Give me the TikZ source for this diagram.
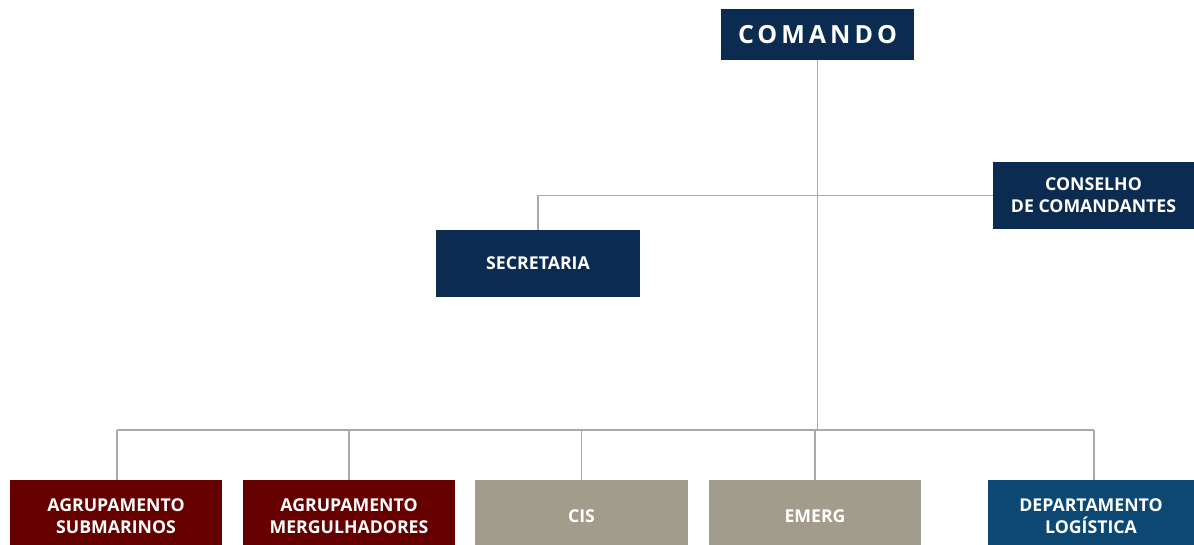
\documentclass[tikz,border=0pt]{standalone}
\usepackage{fontspec}
\setmainfont{Open Sans}
\newfontfamily\spacedfont[LetterSpace=16]{Open Sans}
\definecolor{navyc}{HTML}{0B2C50}
\definecolor{bluec}{HTML}{0C4873}
\definecolor{maroonc}{HTML}{640000}
\definecolor{greyc}{HTML}{A29C8C}
\definecolor{linec}{HTML}{AAAAAA}
\begin{document}
\begin{tikzpicture}[x=1pt,y=-1pt,
  box/.style={rectangle, inner sep=0pt, text=white, align=center,
    font=\bfseries\fontsize{17.7}{22}\selectfont},
  navybox/.style={box, fill=navyc},
  bluebox/.style={box, fill=bluec},
  redbox/.style={box, fill=maroonc},
  greybox/.style={box, fill=greyc},
  conn/.style={draw=linec, line width=1.8pt}]
\useasboundingbox (0,0) rectangle (1194,544);
\clip (0,0) rectangle (1194,544);
% boxes
\node[navybox, minimum width=193pt, minimum height=51pt,
  font=\spacedfont\bfseries\fontsize{25}{28}\selectfont] (comando) at (817.5,34.5) {COMANDO};
\node[navybox, minimum width=201pt, minimum height=67pt] (cons) at (1093.5,195.5) {CONSELHO\\DE COMANDANTES};
\node[navybox, minimum width=204pt, minimum height=67pt] (sec) at (538,263.5) {SECRETARIA};
\node[redbox, minimum width=212pt, minimum height=72pt] (sub) at (116,516) {AGRUPAMENTO\\SUBMARINOS};
\node[redbox, minimum width=212pt, minimum height=72pt] (mer) at (349,516) {AGRUPAMENTO\\MERGULHADORES};
\node[greybox, minimum width=213pt, minimum height=72pt] (cis) at (581.5,516) {CIS};
\node[greybox, minimum width=212pt, minimum height=72pt] (emerg) at (815,516) {EMERG};
\node[bluebox, minimum width=206pt, minimum height=72pt] (dep) at (1091,516) {DEPARTAMENTO\\LOGÍSTICA};
% connectors
\coordinate (bl) at (117,430);
\coordinate (br) at (1094,430);
\coordinate (deptop) at (1094,480);
\draw[conn] (comando.south) -- (comando.south |- bl);
\draw[conn] (sec.north) |- (cons.west);
\draw[conn] (bl) -- (br);
\draw[conn] (bl) -- (bl |- sub.north);
\draw[conn] (mer.north) -- (mer.north |- bl);
\draw[conn] (cis.north) -- (cis.north |- bl);
\draw[conn] (emerg.north) -- (emerg.north |- bl);
\draw[conn] (br) -- (deptop);
\end{tikzpicture}
\end{document}
